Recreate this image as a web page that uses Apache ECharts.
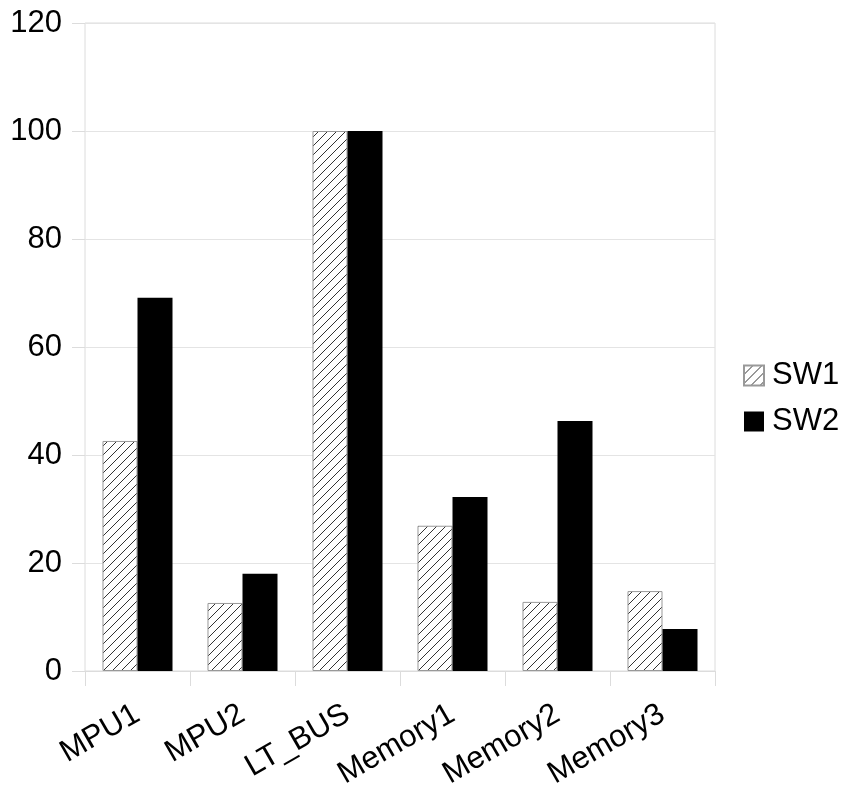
<!DOCTYPE html>
<html><head><meta charset="utf-8">
<script src="https://cdn.jsdelivr.net/npm/echarts@6/dist/echarts.min.js"></script>
<style>html,body{margin:0;padding:0;background:#fff}#c{width:845px;height:785px}</style>
</head><body><div id="c"></div>
<script>
const categories = ['MPU1','MPU2','LT_BUS','Memory1','Memory2','Memory3'];
const sw1 = [42.6, 12.6, 100, 26.9, 12.8, 14.8];
const sw2 = [69.1, 18.0, 100, 32.2, 46.3, 7.8];
const yTicks = [0, 20, 40, 60, 80, 100, 120];

function hatch(){
  const s = 9;
  const cv = document.createElement('canvas');
  cv.width = s; cv.height = s;
  const ctx = cv.getContext('2d');
  ctx.fillStyle = '#fff'; ctx.fillRect(0,0,s,s);
  ctx.strokeStyle = '#333'; ctx.lineWidth = 1;
  ctx.beginPath();
  ctx.moveTo(-1, s+1); ctx.lineTo(s+1, -1);
  ctx.moveTo(-1, 1); ctx.lineTo(1, -1);
  ctx.moveTo(s-1, s+1); ctx.lineTo(s+1, s-1);
  ctx.stroke();
  return cv;
}
const pat = {image: hatch(), repeat: 'repeat'};
const font = '"Liberation Sans", Arial, sans-serif';
const chart = echarts.init(document.getElementById('c'));
chart.setOption({
  animation: false,
  grid: {left: 85, right: 130, top: 23, bottom: 114, show: true, borderColor: '#dcdcdc', borderWidth: 1,
         containLabel: false, outerBoundsMode: 'none'},
  legend: {
    orient: 'vertical', left: 743, top: 360, padding: 0, itemWidth: 20, itemHeight: 20, itemGap: 15, icon: 'rect',
    textStyle: {fontSize: 31, fontFamily: font, color: '#000', padding: [0,0,0,3]},
    data: ['SW1','SW2']
  },
  xAxis: {
    type: 'category', data: categories, boundaryGap: true,
    axisLine: {show: true, lineStyle: {color: '#dcdcdc'}},
    axisTick: {show: true, length: 15, inside: false, lineStyle: {color: '#dcdcdc'}},
    axisLabel: {rotate: 30, fontSize: 31, fontFamily: font, color: '#000', margin: 41, interval: 0}
  },
  yAxis: {
    type: 'value', min: 0, max: 120, interval: 20,
    axisLine: {show: false},
    axisTick: {show: true, length: 13, lineStyle: {color: '#dcdcdc'}},
    splitLine: {lineStyle: {color: '#e4e4e4'}},
    axisLabel: {fontSize: 31, fontFamily: font, color: '#000', margin: 23,
      formatter: v => yTicks.includes(v) ? String(v) : ''}
  },
  series: [
    {name: 'SW1', type: 'bar', data: sw1, barGap: '0%', barCategoryGap: '33.33%',
     itemStyle: {color: pat, borderColor: '#999', borderWidth: 1}},
    {name: 'SW2', type: 'bar', data: sw2,
     itemStyle: {color: '#000'}}
  ]
});
</script></body></html>
